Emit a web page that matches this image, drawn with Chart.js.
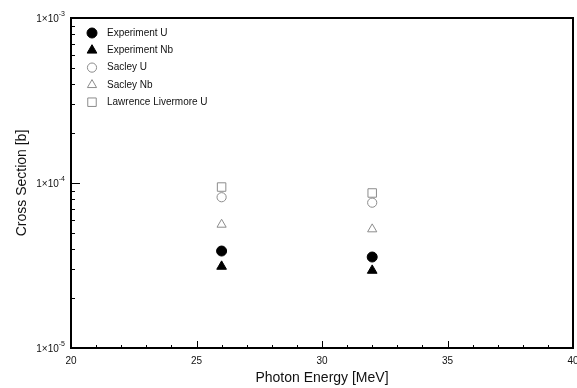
<!DOCTYPE html>
<html lang="en">

<head>
    <meta charset="UTF-8">
    <title>Cross Section vs Photon Energy</title>

    <!-- Load Chart.js from CDN -->
    <script src="https://cdn.jsdelivr.net/npm/chart.js"></script>

    <style>
        body {
            margin: 0;
            background: #fff;
        }

        #chart-container {
            width: 577px;
            height: 388px;
        }
    </style>
</head>

<body>

    <div id="chart-container">
        <canvas id="crossSectionChart" width="577" height="388"></canvas>
    </div>

    <script>
        // Measured and reference cross sections [b] at each photon energy [MeV]
        const energies = [26, 32];
        const experimentU = [3.87e-5, 3.56e-5];
        const experimentNb = [3.12e-5, 2.95e-5];
        const sacleyU = [8.2e-5, 7.6e-5];
        const sacleyNb = [5.6e-5, 5.25e-5];
        const livermoreU = [9.45e-5, 8.7e-5];

        const xTicks = [20, 25, 30, 35, 40];
        const yDecades = [-5, -4, -3];

        const FONT = "'Liberation Sans', Arial, sans-serif";

        function points(values) {
            return energies.map((e, i) => ({ x: e, y: values[i] }));
        }

        // label, values, pointStyle, radius, fill, border
        const series = [
            ['Experiment U', experimentU, 'circle', 5, '#000', '#000'],
            ['Experiment Nb', experimentNb, 'triangle', 5.6, '#000', '#000'],
            ['Sacley U', sacleyU, 'circle', 4.6, '#fff', '#8c8c8c'],
            ['Sacley Nb', sacleyNb, 'triangle', 5.3, '#fff', '#8c8c8c'],
            ['Lawrence Livermore U', livermoreU, 'rect', 6, '#fff', '#8c8c8c']
        ];

        const datasets = series.map(([label, values, style, r, fill, border]) => ({
            label: label,
            data: points(values),
            pointStyle: style,
            pointRadius: r,
            pointHoverRadius: r,
            backgroundColor: fill,
            borderColor: border,
            borderWidth: 1,
            showLine: false
        }));

        // Frame, inward tick marks and axis labels
        const axesPlugin = {
            id: 'axesPlugin',
            afterDraw(chart) {
                const { ctx, chartArea: a, scales: { x, y } } = chart;
                ctx.save();
                ctx.strokeStyle = '#000';
                ctx.lineWidth = 1;

                for (let v = 21; v < 40; v++) {
                    const px = Math.round(x.getPixelForValue(v)) + 0.5;
                    const len = v % 5 === 0 ? 7 : 3;
                    ctx.beginPath();
                    ctx.moveTo(px, a.bottom);
                    ctx.lineTo(px, a.bottom - len);
                    ctx.stroke();
                }

                yDecades.forEach(e => {
                    for (let m = 1; m <= 9; m++) {
                        const v = m * Math.pow(10, e);
                        if (v > y.max * 1.0001 || v < y.min * 0.9999) continue;
                        const py = Math.round(y.getPixelForValue(v)) + 0.5;
                        const len = m === 1 ? 9 : 4;
                        ctx.beginPath();
                        ctx.moveTo(a.left, py);
                        ctx.lineTo(a.left + len, py);
                        ctx.stroke();
                    }
                });

                ctx.lineWidth = 2;
                ctx.strokeRect(a.left, a.top, a.right - a.left, a.bottom - a.top);

                ctx.fillStyle = '#111';
                ctx.textBaseline = 'middle';

                // x labels (the last one runs off the canvas edge)
                ctx.font = '10px ' + FONT;
                ctx.textAlign = 'center';
                xTicks.forEach(v => {
                    ctx.fillText(String(v), x.getPixelForValue(v), a.bottom + 13);
                });

                // y labels with raised exponent
                yDecades.forEach(e => {
                    const py = y.getPixelForValue(Math.pow(10, e));
                    const exp = String(e);
                    ctx.font = '7px ' + FONT;
                    const ew = ctx.measureText(exp).width;
                    const right = a.left - 6;
                    ctx.textAlign = 'left';
                    ctx.fillText(exp, right - ew, py - 4);
                    ctx.font = '10px ' + FONT;
                    ctx.textAlign = 'right';
                    ctx.fillText('1\u00d710', right - ew, py + 1);
                });
                ctx.restore();
            }
        };

        // Legend drawn inside the plot, top left
        const legendPlugin = {
            id: 'legendPlugin',
            afterDraw(chart) {
                const { ctx, chartArea: a } = chart;
                ctx.save();
                ctx.font = '10px ' + FONT;
                ctx.textBaseline = 'middle';
                ctx.textAlign = 'left';
                chart.data.datasets.forEach((ds, i) => {
                    const cy = a.top + 15 + i * 17.3;
                    const cx = a.left + 21;
                    ctx.fillStyle = ds.backgroundColor;
                    ctx.strokeStyle = ds.borderColor;
                    ctx.lineWidth = 1;
                    Chart.helpers.drawPoint(ctx, {
                        pointStyle: ds.pointStyle,
                        radius: ds.pointRadius,
                        rotation: 0,
                        borderWidth: 1
                    }, cx, cy);
                    ctx.fillStyle = '#111';
                    ctx.fillText(ds.label, a.left + 36, cy);
                });
                ctx.restore();
            }
        };

        const ctx = document.getElementById('crossSectionChart').getContext('2d');
        const crossSectionChart = new Chart(ctx, {
            type: 'scatter',
            data: { datasets: datasets },
            plugins: [axesPlugin, legendPlugin],
            options: {
                responsive: false,
                animation: false,
                devicePixelRatio: 1,
                layout: {
                    autoPadding: false,
                    padding: { top: 18, right: 4, left: 0, bottom: 0 }
                },
                plugins: {
                    legend: { display: false },
                    tooltip: { enabled: false }
                },
                scales: {
                    x: {
                        type: 'linear',
                        min: 20,
                        max: 40,
                        afterFit: scale => {
                            scale.height = 40;
                        },
                        ticks: { display: false },
                        grid: { display: false },
                        border: { display: false },
                        title: {
                            display: true,
                            text: 'Photon Energy [MeV]',
                            color: '#111',
                            font: { family: FONT, size: 14 },
                            padding: { top: 0, bottom: 1 }
                        }
                    },
                    y: {
                        type: 'logarithmic',
                        min: 1e-5,
                        max: 1e-3,
                        afterFit: scale => {
                            scale.width = 71;
                        },
                        ticks: { display: false },
                        grid: { display: false },
                        border: { display: false },
                        title: {
                            display: true,
                            text: 'Cross Section [b]',
                            color: '#111',
                            font: { family: FONT, size: 14 },
                            padding: { top: 14, bottom: 0 }
                        }
                    }
                }
            }
        });
    </script>

</body>

</html>
